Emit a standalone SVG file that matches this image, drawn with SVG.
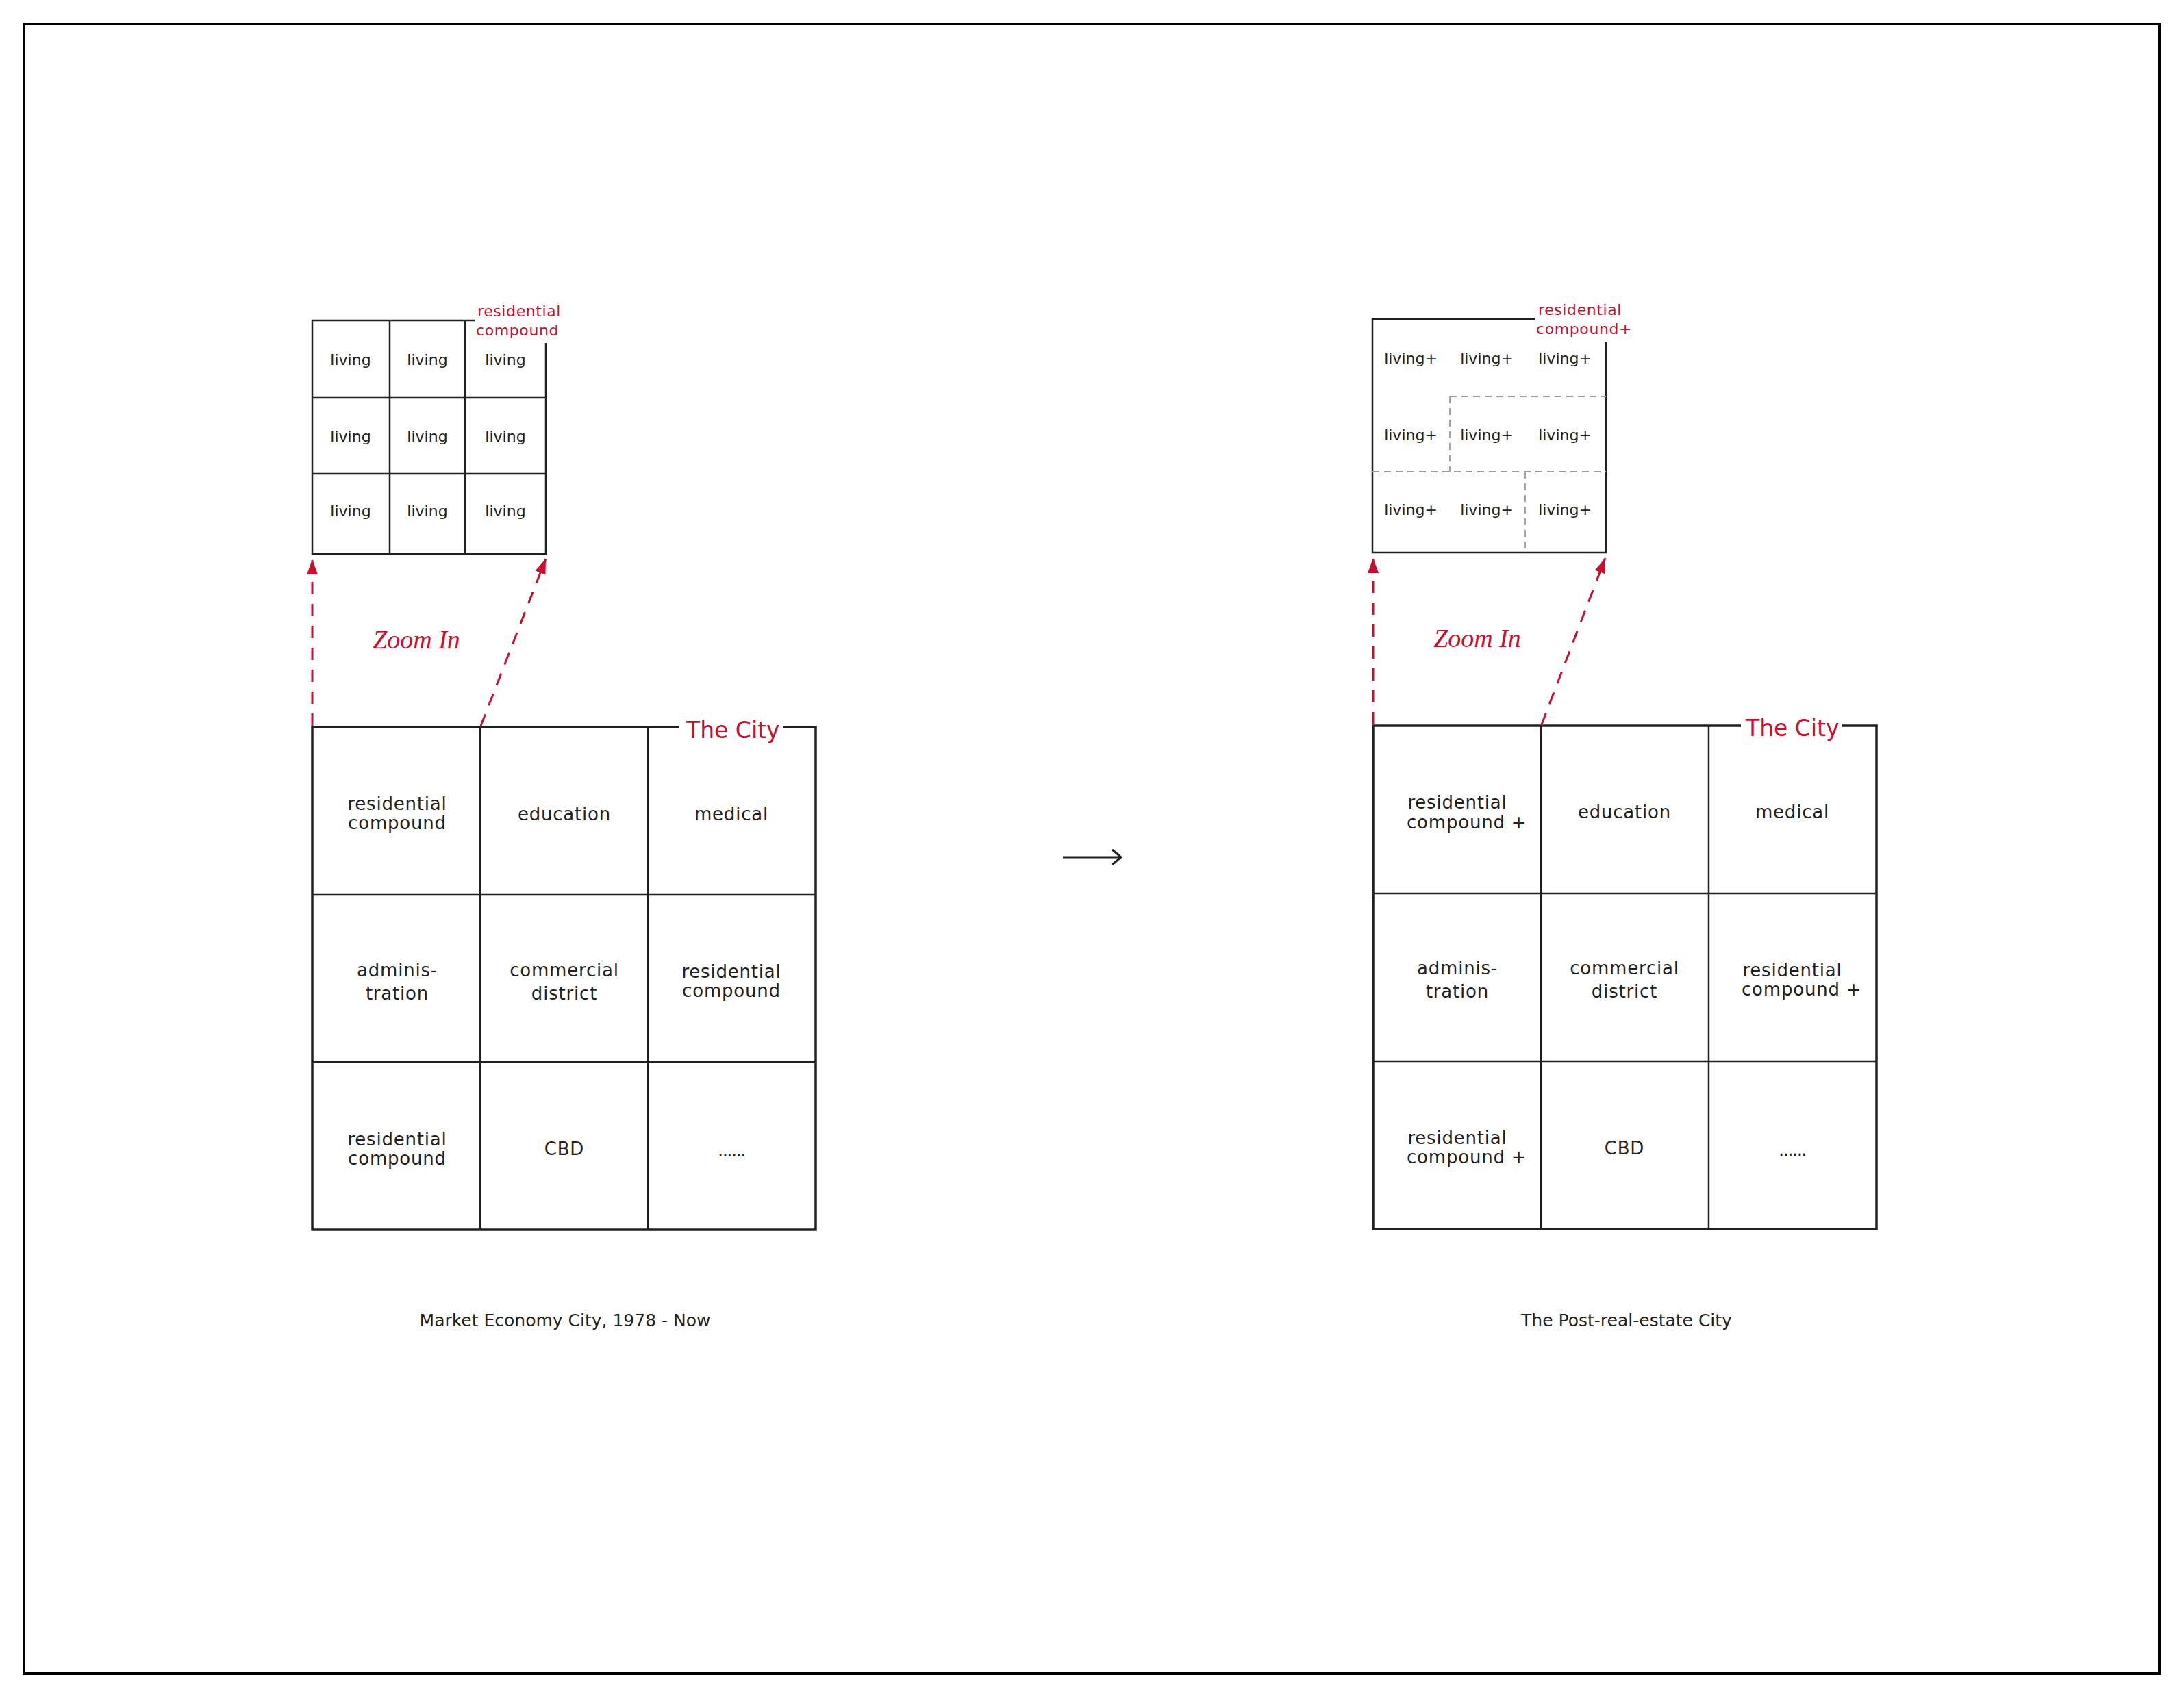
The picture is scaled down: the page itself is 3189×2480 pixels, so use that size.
<svg xmlns="http://www.w3.org/2000/svg" width="3189" height="2480" viewBox="0 0 3189 2480">
<style>
.frame{fill:none;stroke:#000;stroke-width:4}
.thin{fill:none;stroke:#231f20;stroke-width:2.5}
.outer{fill:none;stroke:#231f20;stroke-width:3.5}
.dash{fill:none;stroke:#9a9a9a;stroke-width:1.8;stroke-dasharray:10 7}
.red{fill:none;stroke:#c8102e;stroke-width:3;stroke-dasharray:18 14}
.blk{fill:none;stroke:#231f20;stroke-width:3}
text{font-family:"DejaVu Sans",sans-serif;fill:#231f20}
.cell{font-size:26px;letter-spacing:0.8px;text-anchor:middle}
.cellL{font-size:26px;letter-spacing:0.8px}
.dots{font-size:26px;letter-spacing:-1.6px;text-anchor:middle}
.liv{font-size:22px;text-anchor:middle}
.lab{font-size:22px;letter-spacing:0.6px;fill:#c8102e}
.city{font-size:33px;fill:#c8102e}
.zoom{font-family:"Liberation Serif",serif;font-style:italic;font-size:38px;fill:#c8102e;text-anchor:middle}
.cap{font-size:25px;text-anchor:middle}
</style>
<defs>
<marker id="ah" markerUnits="userSpaceOnUse" viewBox="0 0 22 16" markerWidth="22" markerHeight="16" refX="22" refY="8" orient="auto">
<path d="M0,0 L22,8 L0,16 Z" fill="#c8102e"/>
</marker>
</defs>
<rect class="frame" x="35" y="35" width="3118" height="2409"/>

<g id="left-compound">
<path class="thin" d="M693,468 H456 V809 H797 V501"/>
<path class="thin" d="M569,468 V809 M679,468 V809 M456,581 H797 M456,692 H797"/>
<text class="lab" x="697" y="462">residential</text>
<text class="lab" x="695" y="490">compound</text>
<text class="liv" x="512" y="533">living</text>
<text class="liv" x="624" y="533">living</text>
<text class="liv" x="738" y="533">living</text>
<text class="liv" x="512" y="645">living</text>
<text class="liv" x="624" y="645">living</text>
<text class="liv" x="738" y="645">living</text>
<text class="liv" x="512" y="754">living</text>
<text class="liv" x="624" y="754">living</text>
<text class="liv" x="738" y="754">living</text>
</g>

<g id="right-compound">
<path class="thin" d="M2242,466 H2004 V807 H2345 V499"/>
<path class="dash" d="M2117,579 H2345 M2117,579 V689 M2004,689 H2345 M2227,689 V807"/>
<text class="lab" x="2246" y="460">residential</text>
<text class="lab" x="2243" y="488">compound+</text>
<text class="liv" x="2060" y="531">living+</text>
<text class="liv" x="2171" y="531">living+</text>
<text class="liv" x="2285" y="531">living+</text>
<text class="liv" x="2060" y="643">living+</text>
<text class="liv" x="2171" y="643">living+</text>
<text class="liv" x="2285" y="643">living+</text>
<text class="liv" x="2060" y="752">living+</text>
<text class="liv" x="2171" y="752">living+</text>
<text class="liv" x="2285" y="752">living+</text>
</g>

<g id="left-city">
<path class="outer" d="M992,1062 H456 V1796 H1191 V1062 H1143"/>
<path class="thin" d="M701,1062 V1796 M946,1062 V1796 M456,1306 H1191 M456,1551 H1191"/>
<text class="city" x="1002" y="1078">The City</text>
<text class="cell" x="580" y="1183">residential</text>
<text class="cell" x="580" y="1211">compound</text>
<text class="cell" x="824" y="1198">education</text>
<text class="cell" x="1068" y="1198">medical</text>
<text class="cell" x="580" y="1426">adminis-</text>
<text class="cell" x="580" y="1460">tration</text>
<text class="cell" x="824" y="1426">commercial</text>
<text class="cell" x="824" y="1460">district</text>
<text class="cell" x="1068" y="1428">residential</text>
<text class="cell" x="1068" y="1456">compound</text>
<text class="cell" x="580" y="1673">residential</text>
<text class="cell" x="580" y="1701">compound</text>
<text class="cell" x="824" y="1687">CBD</text>
<text class="dots" x="1068" y="1689">......</text>
</g>

<g id="right-city">
<path class="outer" d="M2542,1060 H2005 V1795 H2740 V1060 H2690"/>
<path class="thin" d="M2250,1060 V1795 M2495,1060 V1795 M2005,1305 H2740 M2005,1550 H2740"/>
<text class="city" x="2549" y="1075">The City</text>
<text class="cell" x="2128" y="1181">residential</text>
<text class="cellL" x="2054" y="1210">compound +</text>
<text class="cell" x="2372" y="1195">education</text>
<text class="cell" x="2617" y="1195">medical</text>
<text class="cell" x="2128" y="1423">adminis-</text>
<text class="cell" x="2128" y="1457">tration</text>
<text class="cell" x="2372" y="1423">commercial</text>
<text class="cell" x="2372" y="1457">district</text>
<text class="cell" x="2617" y="1426">residential</text>
<text class="cellL" x="2543" y="1454">compound +</text>
<text class="cell" x="2128" y="1671">residential</text>
<text class="cellL" x="2054" y="1699">compound +</text>
<text class="cell" x="2372" y="1686">CBD</text>
<text class="dots" x="2617" y="1688">......</text>
</g>

<g id="connectors">
<path class="red" d="M456,1060 V817" marker-end="url(#ah)"/>
<path class="red" d="M702,1060 L797,816" marker-end="url(#ah)"/>
<path class="red" d="M2005,1058 V815" marker-end="url(#ah)"/>
<path class="red" d="M2251,1058 L2344,815" marker-end="url(#ah)"/>
<path class="blk" d="M1552,1252 H1636 M1624,1241 L1637,1252 L1624,1263"/>
</g>

<g id="labels">
<text class="zoom" x="608" y="947">Zoom In</text>
<text class="zoom" x="2157" y="945">Zoom In</text>
<text class="cap" x="825" y="1937">Market Economy City, 1978 - Now</text>
<text class="cap" x="2375" y="1937">The Post-real-estate City</text>
</g>
</svg>
